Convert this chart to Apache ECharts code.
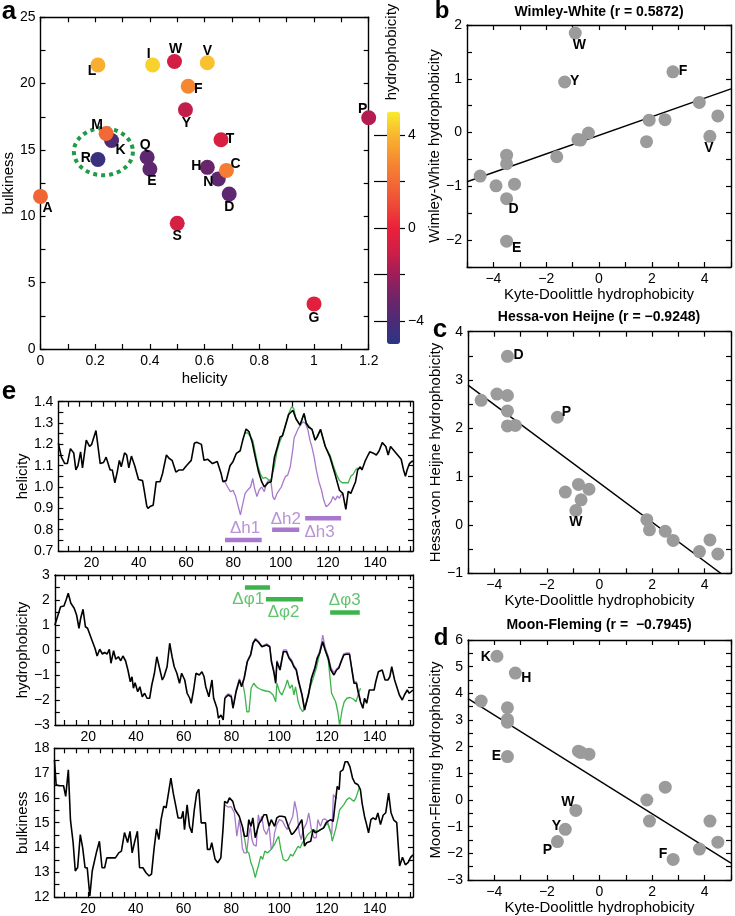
<!DOCTYPE html>
<html><head><meta charset="utf-8">
<script src="https://cdn.jsdelivr.net/npm/echarts@6/dist/echarts.min.js"></script>
<style>html,body{margin:0;padding:0;background:#fff}#c{width:735px;height:916px}</style>
</head><body><div id="c"></div><script>
const FONT = "'Liberation Sans', Arial, Helvetica, sans-serif";

// ---------- Panel a-d data (per residue) ----------
const residues = ['A','R','N','D','C','Q','E','G','H','I','L','K','M','F','P','S','T','W','Y','V'];
const helicity = [0, 0.21, 0.65, 0.69, 0.68, 0.39, 0.40, 1.0, 0.61, 0.41, 0.21, 0.26, 0.24, 0.54, 1.2, 0.50, 0.66, 0.49, 0.53, 0.61];
const bulkiness = [11.5, 14.28, 12.82, 11.68, 13.46, 14.45, 13.57, 3.4, 13.69, 21.4, 21.4, 15.71, 16.25, 19.8, 17.43, 9.47, 15.77, 21.67, 18.03, 21.57];
const kyteDoolittle = [1.8,-4.5,-3.5,-3.5,2.5,-3.5,-3.5,-0.4,-3.2,4.5,3.8,-3.9,1.9,2.8,-1.6,-0.8,-0.7,-0.9,-1.3,4.2];
const wimleyWhite = [-0.17,-0.81,-0.42,-1.23,0.24,-0.58,-2.02,-0.01,-0.96,0.31,0.56,-0.99,0.23,1.13,-0.45,-0.13,-0.14,1.85,0.94,-0.07];
const hessaVonHeijne = [0.11,2.58,2.05,3.49,-0.13,2.36,2.68,0.74,2.06,-0.60,-0.55,2.71,-0.10,-0.32,2.23,0.84,0.52,0.30,0.68,-0.31];
const moonFleming = [0.0,3.71,3.02,3.46,0.48,2.92,1.63,1.72,4.76,-1.58,-1.84,5.39,-0.79,-2.23,-1.56,1.83,1.78,-0.39,-1.10,-0.79];
const labeledB = ['W','Y','F','V','D','E'];
const labeledC = ['D','P','W'];
const labeledD = ['K','H','E','W','Y','P','F'];
const clusterCenter = [0.23, 14.87];
const colorbarTicks = [-4,-2,0,2,4];
const colorbarLabels = [-4,0,4];

// ---------- Panel e data (position, value) ----------
const helBlack = [[6.0,1.205],[7.3,1.14],[8.7,1.11],[9.8,1.11],[11.1,1.18],[12.5,1.16],[13.4,1.08],[14.3,1.10],[15.4,1.165],[16.2,1.09],[17.8,1.22],[19.2,1.19],[20.1,1.20],[21.9,1.265],[23.7,1.11],[25.1,1.115],[26.2,1.14],[27.0,1.14],[27.9,1.08],[28.8,1.08],[29.9,1.02],[30.9,1.07],[31.8,1.125],[32.6,1.095],[34.0,1.16],[34.9,1.15],[35.8,1.09],[36.9,1.145],[38.3,1.10],[39.9,1.035],[41.6,1.03],[42.3,0.985],[43.4,0.91],[43.9,0.90],[45.0,0.91],[46.1,0.915],[47.4,1.025],[49.0,1.025],[50.1,1.065],[51.7,1.15],[52.8,1.135],[54.1,1.125],[55.7,1.07],[57.1,1.08],[58.7,1.08],[59.8,1.095],[61.0,1.11],[62.2,1.125],[63.5,1.205],[64.5,1.21],[66.5,1.20],[67.6,1.125],[69.2,1.13],[71.2,1.11],[73.2,1.12],[74.8,1.065],[75.6,1.025],[77.0,1.03],[78.6,1.10],[79.9,1.12],[81.3,1.158],[82.9,1.17],[84.0,1.22],[85.4,1.272],[86.6,1.26],[88.0,1.21],[89.3,1.14],[90.7,1.07],[92.0,1.025],[93.1,1.0],[94.7,1.02],[96.0,1.025],[97.4,1.14],[98.7,1.19],[99.8,1.235],[100.8,1.24],[102.1,1.29],[103.4,1.34],[105.2,1.36],[106.5,1.32],[108.2,1.29],[109.9,1.345],[110.8,1.30],[111.9,1.28],[113.3,1.27],[114.6,1.22],[115.5,1.235],[116.9,1.27],[118.9,1.19],[120.9,1.14],[122.9,1.065],[124.9,0.985],[126.3,0.97],[127.6,0.895],[128.6,0.98],[129.7,0.97],[131.7,1.025],[132.6,1.08],[133.7,1.095],[134.4,1.08],[135.7,1.12],[137.0,1.15],[137.7,1.165],[139.0,1.16],[140.5,1.15],[141.7,1.17],[143.0,1.208],[144.5,1.19],[145.5,1.15],[146.5,1.19],[148.0,1.17],[149.5,1.15],[151.0,1.13],[152.0,1.08],[152.8,1.05],[153.5,1.08],[154.5,1.11],[155.5,1.12],[156.0,1.12]];
const helPurple = [[75.9,1.033],[76.5,1.025],[77.9,0.994],[78.8,0.978],[79.9,0.985],[81.0,0.955],[81.9,0.916],[83.0,0.869],[83.9,0.916],[85.0,0.97],[86.0,0.985],[87.3,1.0],[88.2,1.04],[89.0,0.993],[90.0,0.955],[90.9,0.985],[92.0,1.0],[93.1,0.978],[94.0,1.017],[95.0,1.033],[96.0,1.017],[96.7,0.955],[97.4,0.94],[98.5,0.97],[99.4,0.985],[100.3,1.0],[101.1,1.025],[102.1,1.05],[103.0,1.056],[104.1,1.095],[105.2,1.18],[105.7,1.23],[106.5,1.25],[107.5,1.275],[108.4,1.29],[109.5,1.306],[110.5,1.298],[111.5,1.27],[112.4,1.22],[113.2,1.189],[114.2,1.14],[115.1,1.08],[116.2,1.025],[117.3,0.986],[118.2,0.94],[119.2,0.908],[120.2,0.916],[121.3,0.931],[122.2,0.955],[123.2,0.939],[124.0,0.958],[124.9,0.947],[125.6,0.963],[126.5,0.97]];
const helGreen = [[84.6,1.25],[85.9,1.255],[87.0,1.24],[88.2,1.22],[89.3,1.16],[90.4,1.10],[91.5,1.06],[92.6,1.04],[93.7,1.045],[94.8,1.035],[95.9,1.03],[96.7,1.03],[97.4,1.10],[98.5,1.17],[99.6,1.21],[100.7,1.24],[102.0,1.29],[103.3,1.34],[104.6,1.375],[105.5,1.37],[106.5,1.32],[108.2,1.29],[109.9,1.345],[110.8,1.30],[113.3,1.27],[114.6,1.22],[116.9,1.27],[118.9,1.19],[120.9,1.15],[122.3,1.10],[123.6,1.06],[124.9,1.03],[126.0,1.02],[127.3,1.02],[128.6,1.02],[129.7,1.05],[130.7,1.06],[131.7,1.08],[132.6,1.09]];

const hydBlack = [[6.0,1.0],[7.1,1.33],[8.4,1.73],[9.8,1.76],[10.7,2.0],[11.6,2.27],[12.7,1.87],[14.1,1.67],[15.1,1.4],[16.1,0.87],[16.8,1.27],[17.8,1.63],[18.8,0.93],[19.7,0.87],[21.5,0.4],[22.8,0.07],[23.7,-0.24],[24.8,0.03],[25.9,-0.16],[26.8,-0.1],[27.9,-0.16],[28.8,0.03],[29.5,-0.53],[30.6,-0.03],[31.5,-0.37],[32.6,-0.27],[33.6,-0.43],[34.5,-0.24],[35.6,-0.43],[36.6,-0.8],[37.6,-1.27],[38.3,-1.07],[38.9,-1.53],[39.6,-1.31],[40.7,-1.67],[41.6,-1.47],[42.6,-1.87],[43.6,-1.73],[44.6,-1.93],[45.7,-1.93],[46.6,-1.4],[47.7,-0.93],[48.7,-0.27],[49.7,-0.67],[51.0,-1.2],[51.7,-1.07],[53.0,-0.67],[54.1,0.27],[55.1,-0.27],[56.0,-0.67],[57.1,-0.93],[58.2,-1.33],[59.1,-0.93],[60.4,-1.2],[61.4,-1.73],[62.5,-1.93],[63.1,-2.13],[64.1,-1.6],[65.1,-0.93],[66.5,-1.0],[67.6,-0.87],[68.5,-1.07],[69.2,-1.47],[70.5,-1.87],[71.8,-1.2],[72.5,-1.93],[73.9,-2.33],[74.5,-2.73],[75.6,-2.6],[76.5,-2.8],[77.2,-1.93],[78.6,-1.8],[79.9,-1.87],[80.6,-2.33],[81.9,-1.67],[83.3,-1.2],[84.2,-1.47],[85.3,-1.13],[86.6,-0.47],[88.0,-0.2],[89.0,0.27],[90.0,0.42],[91.3,0.31],[92.7,0.13],[94.7,0.2],[96.0,0.13],[96.7,-0.47],[97.7,-0.87],[98.5,-1.33],[99.0,-0.47],[100.3,-0.8],[101.7,-0.07],[103.0,-0.07],[104.1,-0.33],[105.2,-0.47],[106.1,-0.67],[107.1,-0.8],[108.1,-1.27],[109.5,-1.8],[110.6,-2.4],[111.1,-2.2],[112.2,-1.8],[113.5,-1.13],[114.9,-0.73],[115.9,-0.33],[116.9,-0.13],[117.5,0.1],[118.2,0.33],[119.2,0.0],[120.5,-0.33],[121.6,-0.8],[122.9,-1.0],[124.0,-0.8],[124.9,-0.73],[125.9,-0.47],[127.0,-0.2],[128.0,-0.17],[129.4,-0.17],[130.3,-0.73],[131.3,-1.33],[132.3,-1.33],[133.0,-1.67],[134.0,-2.07],[135.0,-2.33],[135.7,-1.93],[136.6,-2.13],[137.7,-1.6],[139.7,-1.6],[140.4,-1.27],[141.5,-0.87],[143.1,-0.8],[144.3,-1.2],[145.5,-1.2],[146.3,-1.07],[147.1,-0.67],[148.3,-1.2],[149.1,-1.27],[150.3,-1.8],[151.5,-2.0],[152.4,-1.8],[153.6,-1.6],[154.4,-1.73],[156.0,-1.6]];
const hydPurple = [[77.2,-1.87],[78.6,-1.75],[79.9,-1.8],[80.6,-2.3],[81.9,-1.6],[83.3,-1.15],[84.2,-1.4],[85.3,-1.1],[86.6,-0.42],[88.0,-0.15],[89.0,0.3],[90.0,0.47],[91.3,0.35],[92.7,0.16],[94.7,0.25],[96.0,0.16],[96.7,-0.4],[97.7,-0.8],[98.5,-1.25],[99.0,-0.42],[100.3,-0.75],[101.7,0.0],[103.0,0.0],[104.1,-0.28],[105.2,-0.4],[106.1,-0.6],[107.1,-0.75],[108.1,-1.2],[109.5,-1.75],[110.6,-2.35],[111.1,-2.15],[112.2,-1.75],[113.5,-1.08],[114.9,-0.68],[115.9,-0.28],[116.9,-0.05],[117.5,0.2],[118.2,0.6],[119.2,0.1],[120.5,-0.25],[121.6,-0.7],[122.9,-0.9],[124.0,-0.75],[124.9,-0.68],[125.9,-0.42],[127.0,-0.15],[128.0,-0.12],[129.4,-0.12],[130.3,-0.68],[131.3,-1.28],[132.3,-1.28],[133.0,-1.62],[134.0,-2.0]];
const hydGreen = [[84.6,-1.27],[85.6,-1.8],[86.4,-2.47],[87.3,-2.47],[88.2,-1.53],[89.3,-1.33],[90.4,-1.47],[91.3,-1.53],[92.7,-1.6],[94.4,-1.64],[96.0,-1.67],[97.4,-1.8],[98.5,-2.07],[99.0,-1.33],[100.1,-1.67],[101.1,-1.8],[102.5,-1.47],[103.4,-1.2],[104.4,-1.53],[105.4,-1.4],[106.1,-1.8],[106.8,-1.47],[107.9,-2.07],[108.8,-2.33],[109.8,-2.47],[110.6,-2.33],[111.5,-2.07],[112.8,-1.53],[114.2,-1.13],[115.5,-0.73],[116.9,-0.13],[117.5,0.1],[118.2,0.33],[119.2,0.0],[120.5,-0.4],[121.9,-1.73],[123.6,-2.07],[124.5,-2.47],[125.3,-3.0],[126.3,-2.4],[127.2,-2.07],[128.3,-1.93],[129.6,-1.9],[131.0,-1.96],[132.1,-2.07],[133.0,-1.8],[134.0,-1.53]];

const bulkBlack = [[6.0,17.53],[6.7,16.53],[8.0,16.49],[9.8,16.49],[10.7,16.06],[11.8,17.13],[12.7,15.1],[13.8,14.2],[14.7,13.05],[15.7,13.19],[16.8,14.52],[17.8,13.98],[18.8,13.18],[19.7,13.18],[20.8,12.04],[21.8,13.05],[23.5,13.78],[24.8,14.25],[25.9,13.18],[27.0,13.18],[27.9,13.58],[31.5,13.58],[32.9,13.78],[34.0,13.85],[35.3,14.6],[36.6,14.2],[37.6,14.65],[38.5,13.78],[39.6,14.25],[40.7,14.65],[41.6,13.18],[43.0,13.18],[44.3,12.98],[45.6,12.85],[46.6,12.92],[47.7,13.98],[48.7,14.75],[49.7,14.32],[50.6,15.12],[51.7,15.66],[52.7,15.6],[53.7,16.19],[54.7,16.8],[55.7,16.19],[56.8,15.66],[57.7,15.19],[59.1,15.19],[59.8,15.46],[60.4,14.72],[61.5,15.72],[62.5,14.85],[63.5,14.59],[64.5,15.52],[65.5,16.19],[66.4,16.35],[67.4,14.99],[69.2,14.99],[70.0,13.92],[71.1,13.92],[71.8,14.19],[73.2,13.52],[74.3,13.38],[75.6,13.58],[76.5,14.72],[77.2,15.86],[78.3,15.79],[79.2,16.0],[80.6,15.86],[81.5,15.53],[82.3,15.59],[83.3,15.26],[84.6,14.85],[85.5,14.45],[86.6,14.45],[87.3,15.12],[88.2,14.85],[89.0,15.19],[90.0,14.39],[90.9,14.72],[91.7,14.99],[92.7,15.12],[93.6,15.32],[94.7,15.32],[95.8,14.85],[96.7,15.12],[98.1,14.85],[99.0,15.19],[100.1,15.26],[101.1,15.26],[102.5,15.23],[103.8,14.85],[105.2,14.52],[106.1,14.59],[107.1,14.72],[108.1,14.88],[109.5,15.12],[110.6,14.05],[111.5,14.19],[113.2,14.25],[114.2,14.72],[115.1,14.59],[116.2,14.65],[117.3,14.72],[118.6,14.79],[119.6,14.99],[120.5,15.06],[121.6,15.12],[122.6,15.05],[123.3,15.66],[124.3,16.46],[125.1,16.33],[125.6,17.06],[126.7,17.13],[127.6,17.46],[128.6,17.46],[129.6,17.26],[130.7,16.8],[131.7,16.6],[132.3,16.66],[133.0,16.53],[134.0,16.33],[134.7,15.79],[135.7,15.26],[136.6,14.92],[137.4,14.59],[138.4,15.12],[139.3,15.19],[140.4,15.12],[141.3,15.39],[142.4,14.92],[143.5,15.3],[144.6,15.4],[145.8,16.19],[146.8,15.4],[148.0,15.1],[149.2,15.0],[150.4,13.25],[151.6,13.6],[152.8,13.3],[154.0,13.4],[155.0,13.6],[156.0,13.7]];
const bulkPurple = [[77.2,15.72],[78.6,15.63],[79.9,15.65],[81.3,15.39],[82.3,14.45],[83.3,15.12],[83.9,14.72],[84.6,13.98],[85.3,13.78],[86.4,13.78],[87.3,14.52],[88.0,14.85],[88.6,14.32],[89.3,14.12],[90.4,14.05],[91.3,15.32],[92.0,14.99],[92.7,15.26],[93.6,14.72],[94.7,14.52],[95.8,14.85],[96.7,13.92],[97.4,14.05],[98.1,14.59],[99.0,14.92],[100.1,15.12],[101.4,15.06],[102.5,14.85],[103.4,14.72],[104.8,15.06],[105.7,15.26],[106.5,15.86],[107.5,15.39],[108.4,14.59],[109.2,14.32],[110.1,14.72],[111.5,14.99],[112.4,15.39],[113.5,14.72],[114.5,14.39],[115.5,14.39],[116.2,15.12],[117.3,14.85],[118.2,15.12],[119.2,15.15],[120.2,15.06],[121.3,14.72],[122.0,14.52],[122.7,16.13],[123.6,16.0],[124.3,16.0]];
const bulkGreen = [[84.6,14.85],[85.6,14.32],[86.4,13.85],[87.3,13.78],[88.2,13.38],[89.0,13.18],[90.0,12.78],[90.7,13.05],[91.3,13.25],[92.3,13.65],[93.1,13.52],[94.0,13.85],[95.0,13.78],[96.0,13.85],[97.1,13.98],[98.1,14.12],[99.0,14.32],[99.8,14.45],[100.7,13.92],[101.7,13.52],[102.8,13.45],[103.8,13.52],[104.8,13.72],[105.7,13.65],[106.8,13.85],[107.9,14.05],[108.8,13.98],[109.7,14.19],[110.8,14.32],[111.9,14.52],[112.8,14.59],[114.2,14.72],[116.2,14.65],[118.6,14.79],[120.2,14.99],[121.8,14.52],[122.2,14.25],[123.6,14.72],[124.5,15.12],[125.3,15.52],[125.9,15.59],[127.0,15.72],[128.3,15.93],[129.4,16.0],[130.3,15.93],[131.3,15.86],[132.1,16.0],[133.0,16.26],[133.7,16.46]];

// segment markers: [start, end, level, label, labelX, labelY]
const helixSegments = [[76.5,92,0.752,'Δh1',85.0,0.808],[96.4,107.9,0.80,'Δh2',102.2,0.85],[110.4,125.6,0.853,'Δh3',116.5,0.787]];
const phiSegments = [[85.6,96.1,2.5,'Δφ1',87.0,2.04],[94.4,109.9,2.03,'Δφ2',101.8,1.52],[121.3,133.7,1.5,'Δφ3',127.4,2.0]];

const eTickValues = [10,15,20,25,30,35,40,45,50,55,60,65,70,75,80,85,90,95,100,105,110,115,120,125,130,135,140,145,150,155];
const eLabelValues = [20,40,60,80,100,120,140];

// ---------- styles ----------
const PURPLE = '#a878cc', GREEN = '#3cb44b', GRAY = '#9b9b9b';
const cmap = ['#2b3585','#4b2b76','#702469','#a01d58','#d01e46','#ea2139','#ee4a37','#f26c35','#f68e31','#f9b62e','#f9ec2b'];

const minus = v => String(v).replace('-', '\u2212');

const grids = [
  {left:37, top:17.3, width:331.7, height:331.7},   // 0 a
  {left:387, top:112, width:13, height:232},        // 1 colorbar
  {left:467, top:25, width:264, height:242},        // 2 b
  {left:468, top:331.7, width:263, height:241.6},   // 3 c
  {left:468, top:640, width:263, height:241.7},     // 4 d
  {left:40, top:401.7, width:373, height:149.3},    // 5 e top
  {left:40, top:575, width:373, height:150},        // 6 e mid
  {left:40, top:748.3, width:373, height:149.4}     // 7 e bottom
];

const xAxes = [], yAxes = [];
const lineStyle = {color:'#000', width:1.4};
function addAxes(list, isX, grid, min, max, ticks, labels, fmt, name, nameGap) {
  const idx = list.length;
  list.push({
    type:'value', gridIndex:grid, min, max, position: isX ? 'bottom' : 'left',
    axisLine:{show:true, onZero:false, lineStyle},
    axisTick:{show:true, inside:true, length:5, customValues:ticks, lineStyle:{color:'#000', width:1.2}},
    axisLabel:{show:true, customValues:labels, formatter:fmt, color:'#000', fontFamily:FONT, fontSize:14, margin:5},
    splitLine:{show:false},
    name, nameLocation:'middle', nameGap,
    nameTextStyle:{color:'#000', fontFamily:FONT, fontSize:15}
  });
  list.push({
    type:'value', gridIndex:grid, min, max, position: isX ? 'top' : 'right',
    axisLine:{show:true, onZero:false, lineStyle},
    axisTick:{show:true, inside:true, length:5, customValues:ticks, lineStyle:{color:'#000', width:1.2}},
    axisLabel:{show:false}, splitLine:{show:false}
  });
  return idx;
}
const rng = (a, b, s) => { const r = []; for (let v = a; v <= b + 1e-9; v += s) r.push(+v.toFixed(4)); return r; };

const fmt0 = v => minus(v);
const fmtE = v => (+v).toFixed(1);

// a
const ax = addAxes(xAxes, true, 0, 0, 1.2, rng(0,1.2,0.1), rng(0,1.2,0.2), v => String(+v.toFixed(1)), 'helicity', 22);
const ay = addAxes(yAxes, false, 0, 0, 25, rng(0,25,2.5), rng(0,25,5), fmt0, 'bulkiness', 20);
// colorbar
const cbx = xAxes.length; xAxes.push({type:'value', gridIndex:1, min:0, max:1, show:false});
yAxes.push({type:'value', gridIndex:1, min:-5, max:5, position:'right', axisLine:{show:false},
  axisTick:{show:true, inside:true, length:13, customValues:colorbarTicks, lineStyle:{color:'#000', width:1.2}},
  axisLabel:{show:false}, splitLine:{show:false}});
yAxes.push({type:'value', gridIndex:1, min:-5, max:5, position:'right', axisLine:{show:false},
  axisTick:{show:true, inside:false, length:5, customValues:colorbarTicks, lineStyle:{color:'#000', width:1.2}},
  axisLabel:{show:true, customValues:colorbarLabels, formatter:fmt0, color:'#000', fontFamily:FONT, fontSize:14, margin:8},
  splitLine:{show:false}});
// b c d
const kdTicks = rng(-5,5,1), kdLabels = [-4,-2,0,2,4];
const bx = addAxes(xAxes, true, 2, -5, 5, kdTicks, kdLabels, fmt0, 'Kyte-Doolittle hydrophobicity', 20);
const by = addAxes(yAxes, false, 2, -2.5, 2, rng(-2.5,2,0.5), [-2,-1,0,1,2], fmt0, 'Wimley-White hydrophobicity', 20);
const cx = addAxes(xAxes, true, 3, -5, 5, kdTicks, kdLabels, fmt0, 'Kyte-Doolittle hydrophobicity', 20);
const cy = addAxes(yAxes, false, 3, -1, 4, rng(-1,4,0.5), rng(-1,4,1), fmt0, 'Hessa-von Heijne hydrophobicity', 20);
const dx = addAxes(xAxes, true, 4, -5, 5, kdTicks, kdLabels, fmt0, 'Kyte-Doolittle hydrophobicity', 20);
const dy = addAxes(yAxes, false, 4, -3, 6, rng(-3,6,0.5), rng(-3,6,1), fmt0, 'Moon-Fleming hydrophobicity', 20);
// e
const e1x = addAxes(xAxes, true, 5, 6, 156, eTickValues, eLabelValues, fmt0, '', 0);
const e1y = addAxes(yAxes, false, 5, 0.7, 1.4, rng(0.7,1.4,0.05), rng(0.7,1.4,0.1), fmtE, 'helicity', 26);
const e2x = addAxes(xAxes, true, 6, 6, 156, eTickValues, eLabelValues, fmt0, '', 0);
const e2y = addAxes(yAxes, false, 6, -3, 3, rng(-3,3,0.5), rng(-3,3,1), fmt0, 'hydrophobicity', 20);
const e3x = addAxes(xAxes, true, 7, 6, 156, eTickValues, eLabelValues, fmt0, '', 0);
const e3y = addAxes(yAxes, false, 7, 12, 18, rng(12,18,0.5), rng(12,18,1), fmt0, 'bulkiness', 22);

// ---------- series ----------
const series = [];
series.push({type:'custom', xAxisIndex:ax, yAxisIndex:ay, data:[clusterCenter], z:1, silent:true,
  renderItem:(p, api) => {
    const c = api.coord([api.value(0), api.value(1)]);
    const pts = [];
    for (let i = 0; i <= 90; i++) { const t = i / 90 * 2 * Math.PI; pts.push([c[0] + 29.5*Math.cos(t), c[1] + 23.5*Math.sin(t)]); }
    return {type:'polyline', shape:{points:pts}, style:{stroke:'#1f9a47', lineWidth:4, lineDash:[4,4], fill:null}};
  }});
const labelOffA = {A:[7,12],L:[-6,6],I:[-4,-11],W:[1,-12],V:[0,-12],F:[10,3],Y:[1,13],P:[-6,-9],M:[-9,-8],K:[9,10],R:[-12,-1],T:[9,-1],Q:[-2,-12],E:[2,12],H:[-11,-1],C:[9,-6],N:[-10,3],D:[0,13],S:[0,13],G:[0,14]};
const labStyle = {show:true, position:'inside', color:'#000', fontFamily:FONT, fontWeight:'bold', fontSize:14};
const aIdx = series.length;
series.push({type:'scatter', xAxisIndex:ax, yAxisIndex:ay, symbolSize:15, z:3, itemStyle:{opacity:1},
  data: residues.map((r,i) => ({value:[helicity[i], bulkiness[i], kyteDoolittle[i]], name:r,
    label:Object.assign({}, labStyle, {formatter:r, offset:labelOffA[r]})})),
  clip:false});

function ols(xs, ys) {
  const n = xs.length; let mx=0,my=0; for (let i=0;i<n;i++){mx+=xs[i];my+=ys[i];} mx/=n; my/=n;
  let sxy=0,sxx=0; for (let i=0;i<n;i++){sxy+=(xs[i]-mx)*(ys[i]-my); sxx+=(xs[i]-mx)**2;}
  const b = sxy/sxx; return [my-b*mx, b];
}
function corrPanel(xi, yi, ys, labeled, offs) {
  const [a0, b0] = ols(kyteDoolittle, ys);
  series.push({type:'line', xAxisIndex:xi, yAxisIndex:yi, data:[[-5, a0-5*b0],[5, a0+5*b0]], symbol:'none',
    lineStyle:{color:'#000', width:1.4}, clip:true, z:2, silent:true});
  series.push({type:'scatter', xAxisIndex:xi, yAxisIndex:yi, symbolSize:13, itemStyle:{color:GRAY, opacity:1}, z:3,
    data: residues.map((r,i) => {
      const d = {value:[kyteDoolittle[i], ys[i]], name:r};
      if (labeled.includes(r)) d.label = Object.assign({}, labStyle, {formatter:r, offset:offs[r]});
      return d;
    })});
}
corrPanel(bx, by, wimleyWhite, labeledB, {W:[4,12],Y:[10,-1],F:[10,-1],V:[-1,12],D:[7,10],E:[10,7]});
corrPanel(cx, cy, hessaVonHeijne, labeledC, {D:[11,-1],P:[9,-5],W:[0,12]});
corrPanel(dx, dy, moonFleming, labeledD, {K:[-11,1],H:[11,5],E:[-11,0],W:[-8,-8],Y:[-9,-3],P:[-10,9],F:[-10,-5]});

function trace(xi, yi, data, color, w, z) {
  series.push({type:'line', xAxisIndex:xi, yAxisIndex:yi, data, symbol:'none', lineStyle:{color, width:w}, z, silent:true, clip:true});
}
trace(e1x, e1y, helPurple, PURPLE, 1.3, 2); trace(e1x, e1y, helGreen, GREEN, 1.3, 2); trace(e1x, e1y, helBlack, '#000', 1.6, 3);
trace(e2x, e2y, hydPurple, PURPLE, 1.3, 2); trace(e2x, e2y, hydGreen, GREEN, 1.3, 2); trace(e2x, e2y, hydBlack, '#000', 1.6, 3);
trace(e3x, e3y, bulkPurple, PURPLE, 1.3, 2); trace(e3x, e3y, bulkGreen, GREEN, 1.3, 2); trace(e3x, e3y, bulkBlack, '#000', 1.6, 3);

function segments(xi, yi, segs, color) {
  segs.forEach(s => {
    series.push({type:'line', xAxisIndex:xi, yAxisIndex:yi, data:[[s[0], s[2]],[s[1], s[2]]], symbol:'none',
      lineStyle:{color, width:4.5, cap:'butt'}, z:4, silent:true});
  });
  series.push({type:'scatter', xAxisIndex:xi, yAxisIndex:yi, symbolSize:1, itemStyle:{color:'rgba(0,0,0,0)'}, z:4, silent:true,
    data: segs.map(s => ({value:[s[4], s[5]], name:s[3]})),
    label:{show:true, position:'inside', formatter:'{b}', color, fontFamily:FONT, fontSize:17}});
}
segments(e1x, e1y, helixSegments, PURPLE);
segments(e2x, e2y, phiSegments, GREEN);

// ---------- text ----------
const txt = (t, x, y, size, bold, extra) => Object.assign({type:'text', x, y, z:100,
  style:{text:t, fontFamily:FONT, fontSize:size, fontWeight:bold?'bold':'normal', fill:'#000', align:'center', verticalAlign:'middle'}}, extra||{});
const graphic = [
  txt('a', 9, 12, 26, true), txt('b', 442, 11, 24, true), txt('c', 440, 330, 26, true),
  txt('d', 441, 638, 24, true), txt('e', 9, 392, 26, true),
  txt('Wimley-White (r = 0.5872)', 599, 12, 14, true),
  txt('Hessa-von Heijne (r = \u22120.9248)', 599, 317, 14, true),
  txt('Moon-Fleming (r =  \u22120.7945)', 599, 625, 14, true),
  txt('hydrophobicity', 392, 52, 15, false, {rotation: Math.PI/2})
];

const chart = echarts.init(document.getElementById('c'), null, {renderer:'canvas'});
chart.setOption({
  animation:false, backgroundColor:'#fff',
  grid: grids, xAxis: xAxes, yAxis: yAxes, series, graphic,
  visualMap: [{type:'continuous', min:-5, max:5, seriesIndex:aIdx, dimension:2, inRange:{color:cmap},
    orient:'vertical', left:387, top:112, itemWidth:13, itemHeight:232, padding:0, calculable:false, show:true, text:null,
    textStyle:{fontSize:0}, hoverLink:false}]
});
</script></body></html>
